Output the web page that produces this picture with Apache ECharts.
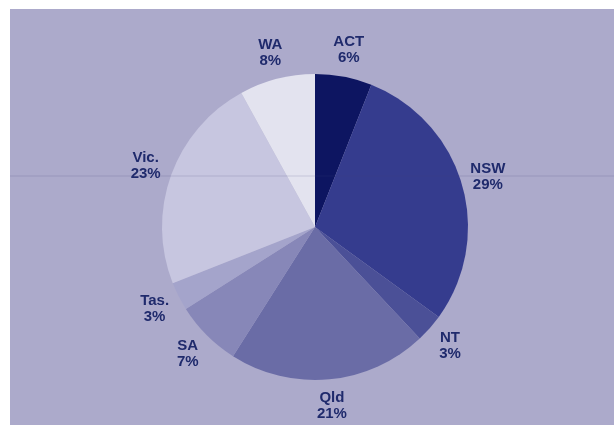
<!DOCTYPE html>
<html>
<head>
<meta charset="utf-8">
<script src="https://cdn.jsdelivr.net/npm/echarts@6/dist/echarts.min.js"></script>
<style>
html,body{margin:0;padding:0;background:#ffffff;}
#chart{width:614px;height:425px;}
</style>
</head>
<body>
<div id="chart"></div>
<script>
const categories = ['ACT', 'NSW', 'NT', 'Qld', 'SA', 'Tas.', 'Vic.', 'WA'];
const values = [6, 29, 3, 21, 7, 3, 23, 8];
const colors = ['#0d1561', '#353c8e', '#4b5097', '#6a6ca6', '#8787b8', '#a4a4cb', '#c7c6e0', '#e3e3ef'];

const CX = 315, CY = 227, R = 153;
const RL = 180;
const total = values.reduce((a, b) => a + b, 0);
const cum = [];
values.reduce((acc, v, i) => { cum[i] = acc; return acc + v; }, 0);

const chart = echarts.init(document.getElementById('chart'), null, {renderer: 'canvas'});
chart.setOption({
  backgroundColor: '#ffffff',
  animation: false,
  graphic: [
    {type: 'rect', left: 10, top: 9, z: -10, shape: {width: 604, height: 416}, style: {fill: '#acaacb'}},
    {type: 'line', z: 100, shape: {x1: 10, y1: 176, x2: 614, y2: 176}, style: {stroke: 'rgba(70,70,120,0.18)', lineWidth: 1}}
  ],
  series: [{
    type: 'pie',
    center: [CX, CY],
    radius: [0, R],
    startAngle: 90,
    clockwise: true,
    avoidLabelOverlap: false,
    data: categories.map((n, i) => ({name: n, value: values[i], itemStyle: {color: colors[i]}})),
    itemStyle: {borderWidth: 0},
    label: {
      show: true,
      position: 'inside',
      formatter: '{b}\n{c}%',
      color: '#1f2a6c',
      fontFamily: 'Liberation Sans, Arial, sans-serif',
      fontWeight: 'bold',
      fontSize: 15,
      lineHeight: 16,
      align: 'center'
    },
    labelLine: {show: false},
    labelLayout: function (p) {
      const i = p.dataIndex;
      const mid = (cum[i] + values[i] / 2) / total * Math.PI * 2;
      return {x: CX + RL * Math.sin(mid), y: CY - RL * Math.cos(mid), align: 'center', verticalAlign: 'middle'};
    },
    emphasis: {disabled: true}
  }]
});
</script>
</body>
</html>
